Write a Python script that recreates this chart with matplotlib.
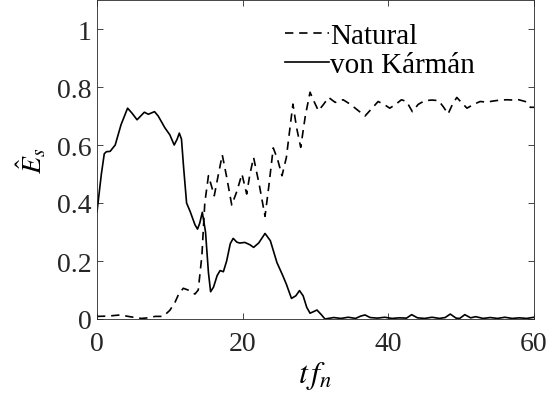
import matplotlib
matplotlib.use('Agg')
import matplotlib.pyplot as plt

plt.rcParams['font.family'] = 'Liberation Serif'
plt.rcParams['mathtext.fontset'] = 'stix'

# von Karman curve
t_vk = [0, 0.6, 1.0, 1.3, 1.8, 2.5, 3.3, 4.2, 4.8, 5.5, 6.0, 6.5, 7.05, 7.9, 8.4, 8.9, 9.3,
        10.0, 10.6, 11.0, 11.3, 11.6, 11.9, 12.3, 12.8, 13.45, 13.8, 14.1, 14.46, 14.9, 15.3,
        15.6, 16.0, 16.5, 16.9, 17.35, 17.8, 18.3, 18.7, 19.2, 19.6, 20.3, 21.0, 21.5, 22.2,
        23.07, 23.8, 24.7, 25.5, 26.0, 26.7, 27.3, 27.8, 28.3, 28.8, 29.25, 29.7, 30.2, 30.8,
        31.3, 32.5, 33.5, 34.5, 35.5, 36.2, 36.8, 37.5, 38.5, 39.5, 40.5, 41.5, 42.5, 43.2,
        44.0, 45.0, 46.0, 47.0, 47.8, 48.5, 49.3, 49.8, 50.5, 51.3, 52.0, 53.0, 54.0, 55.0,
        56.0, 57.0, 58.0, 59.0, 60.0]
e_vk = [0.37, 0.50, 0.57, 0.577, 0.578, 0.60, 0.67, 0.727, 0.71, 0.687, 0.70, 0.713, 0.706,
        0.715, 0.70, 0.678, 0.66, 0.635, 0.60, 0.62, 0.641, 0.62, 0.52, 0.40, 0.37, 0.325,
        0.31, 0.33, 0.368, 0.30, 0.16, 0.094, 0.11, 0.15, 0.167, 0.163, 0.20, 0.26, 0.278,
        0.265, 0.262, 0.264, 0.256, 0.247, 0.262, 0.295, 0.27, 0.195, 0.15, 0.12, 0.071, 0.08,
        0.098, 0.08, 0.04, 0.02, 0.025, 0.031, 0.015, 0.0, 0.005, 0.002, 0.006, 0.002, 0.01,
        0.014, 0.005, 0.003, 0.006, 0.002, 0.004, 0.003, 0.015, 0.004, 0.002, 0.006, 0.002,
        0.005, 0.017, 0.003, 0.002, 0.015, 0.004, 0.008, 0.002, 0.005, 0.002, 0.006, 0.002,
        0.004, 0.002, 0.006]

# natural curve
t_nat = [0, 1.5, 3.2, 4.5, 6.1, 7.0, 8.0, 9.1, 10.0, 10.7, 11.2, 11.85, 12.5, 13.45, 13.9,
         14.4, 14.8, 15.3, 15.7, 16.1, 16.6, 17.2, 17.8, 18.5, 19.2, 19.9, 20.55, 21.0, 21.5,
         22.3, 23.07, 23.6, 24.2, 24.8, 25.4, 26.0, 26.5, 26.9, 27.4, 27.97, 28.6, 29.25,
         29.8, 30.4, 31.1, 31.8, 32.7, 33.8, 34.8, 35.8, 36.8, 37.7, 38.6, 39.4, 40.2, 41.0,
         41.8, 42.5, 43.3, 44.1, 45.0, 46.0, 46.9, 47.6, 48.2, 48.8, 49.4, 50.1, 50.8, 51.7,
         52.6, 53.5, 54.5, 55.4, 56.3, 57.1, 57.9, 58.8, 59.5, 60.0]
e_nat = [0.009, 0.01, 0.014, 0.008, 0.002, 0.004, 0.009, 0.009, 0.03, 0.057, 0.085, 0.106,
         0.10, 0.086, 0.10, 0.218, 0.40, 0.494, 0.46, 0.425, 0.49, 0.566, 0.49, 0.393, 0.44,
         0.50, 0.431, 0.50, 0.557, 0.46, 0.354, 0.46, 0.59, 0.55, 0.494, 0.557, 0.66, 0.741,
         0.66, 0.592, 0.70, 0.782, 0.75, 0.718, 0.74, 0.764, 0.747, 0.756, 0.74, 0.72, 0.70,
         0.725, 0.75, 0.74, 0.727, 0.74, 0.756, 0.75, 0.715, 0.74, 0.753, 0.755, 0.753, 0.73,
         0.707, 0.74, 0.764, 0.745, 0.727, 0.74, 0.75, 0.748, 0.752, 0.755, 0.756, 0.755,
         0.756, 0.75, 0.73, 0.73]

fig = plt.figure(figsize=(5.5, 4.06), dpi=100)
ax = fig.add_axes([97 / 550, 86 / 406, 437 / 550, 319 / 406])

ax.plot(t_nat, e_nat, color='black', lw=1.2, linestyle=(0, (5, 3.5)), label='Natural')
ax.plot(t_vk, e_vk, color='black', lw=1.2, label='von Kármán')

ax.set_xlim(0, 60)
ax.set_ylim(0, 1.1)
ax.set_xticks([0, 20, 40, 60])
ax.set_yticks([0, 0.2, 0.4, 0.6, 0.8, 1])
ax.set_yticklabels(['0', '0.2', '0.4', '0.6', '0.8', '1'])
ax.tick_params(direction='in', length=4, width=0.6, top=True, right=True,
               labelsize=20, colors='#262626')
ax.tick_params(axis='x', pad=9)
ax.tick_params(axis='y', pad=4)
for s in ax.spines.values():
    s.set_color('#262626')
    s.set_linewidth(0.6)

ax.set_xlabel(r'$t\,f_n$', fontsize=23, labelpad=2)
ax.set_ylabel(r'$\hat{E}_s$', fontsize=20, labelpad=6)

leg = ax.legend(loc='upper left', bbox_to_anchor=(0.43, 0.93), frameon=False,
                fontsize=21, handlelength=1.5, handletextpad=0.05,
                labelspacing=0.1, borderpad=0, borderaxespad=0)

fig.savefig('out.png', dpi=100)
